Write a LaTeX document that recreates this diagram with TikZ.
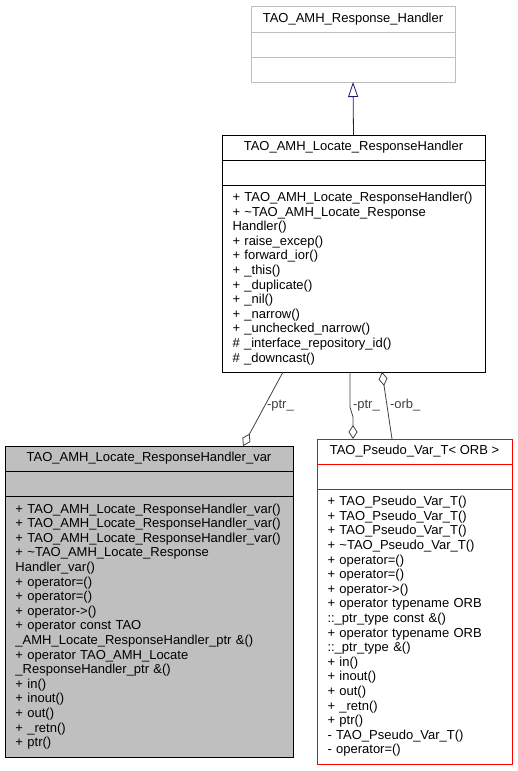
\documentclass[tikz,border=0pt]{standalone}
\usepackage{fontspec}
\setmainfont{Liberation Sans}
\usetikzlibrary{positioning,arrows.meta}
\definecolor{boxgray}{HTML}{BFBFBF}
\definecolor{inherit}{HTML}{191970}
\definecolor{edgegray}{HTML}{404040}
\hyphenpenalty=10000
\exhyphenpenalty=10000
\begin{document}
\begin{tikzpicture}[x=1pt,y=-1pt,
  every node/.style={font=\fontsize{13}{14.6}\selectfont,line width=0.9pt,inner sep=0pt,outer sep=0pt},
  part/.style={draw,minimum height=25pt},
  ops/.style={draw,align=left,inner xsep=10.5pt},
  aggr/.style={{Diamond[open,length=14pt,width=9pt]}-,edgegray,line width=0.8pt}]
\useasboundingbox (0,0) rectangle (517,771);

% base class
\node[part,draw=boxgray,minimum width=204pt,minimum height=26pt] (base) at (353,19) {TAO\_AMH\_Response\_Handler};
\node[part,draw=boxgray,minimum width=204pt,below=0pt of base] (baseattr) {};
\node[part,draw=boxgray,minimum width=204pt,below=0pt of baseattr] (baseops) {};

% handler class
\node[part,minimum width=263pt] (handler) at (353.5,147.5) {TAO\_AMH\_Locate\_ResponseHandler};
\node[part,minimum width=263pt,below=0pt of handler] (handlerattr) {};
\node[ops,minimum height=187pt,text width=242pt,below=0pt of handlerattr] (handlerops) {%
+~TAO\_AMH\_Locate\_ResponseHandler()\\
+ \textasciitilde TAO\_AMH\_Locate\_Response\\
Handler()\\
+ raise\_excep()\\
+ forward\_ior()\\
+ \_this()\\
+ \_duplicate()\\
+ \_nil()\\
+ \_narrow()\\
+ \_unchecked\_narrow()\\
\# \_interface\_repository\_id()\\
\# \_downcast()};

% var class
\node[part,fill=boxgray,minimum width=288pt] (var) at (149,458.5) {TAO\_AMH\_Locate\_ResponseHandler\_var};
\node[part,fill=boxgray,minimum width=288pt,below=0pt of var] (varattr) {};
\node[ops,fill=boxgray,minimum height=261pt,text width=267pt,below=0pt of varattr] (varops) {%
+~TAO\_AMH\_Locate\_ResponseHandler\_var()\\
+~TAO\_AMH\_Locate\_ResponseHandler\_var()\\
+~TAO\_AMH\_Locate\_ResponseHandler\_var()\\
+ \textasciitilde TAO\_AMH\_Locate\_Response\\
Handler\_var()\\
+ operator=()\\
+ operator=()\\
+ operator->()\\
+ operator const TAO\\
\_AMH\_Locate\_ResponseHandler\_ptr \&()\\
+ operator TAO\_AMH\_Locate\\
\_ResponseHandler\_ptr \&()\\
+ in()\\
+ inout()\\
+ out()\\
+ \_retn()\\
+ ptr()};

% pseudo var class
\node[part,draw=red,minimum width=195pt] (pseudo) at (414.5,451.5) {TAO\_Pseudo\_Var\_T< ORB >};
\node[part,draw=red,minimum width=195pt,below=0pt of pseudo] (pseudoattr) {};
\node[ops,draw=red,minimum height=275pt,text width=174pt,below=0pt of pseudoattr] (pseudoops) {%
+ TAO\_Pseudo\_Var\_T()\\
+ TAO\_Pseudo\_Var\_T()\\
+ TAO\_Pseudo\_Var\_T()\\
+ \textasciitilde TAO\_Pseudo\_Var\_T()\\
+ operator=()\\
+ operator=()\\
+ operator->()\\
+ operator typename ORB\\
::\_ptr\_type const \&()\\
+ operator typename ORB\\
::\_ptr\_type \&()\\
+ in()\\
+ inout()\\
+ out()\\
+ \_retn()\\
+ ptr()\\
- TAO\_Pseudo\_Var\_T()\\
- operator=()};

% inheritance
\draw[-{Triangle[open,length=15pt,width=10pt]},inherit,line width=0.8pt] (handler.north) -- (baseops.south);

% aggregation
\draw[aggr] ([xshift=238pt]var.north west) -- node[right=2pt,pos=0.55]{-ptr\_} ([xshift=61pt]handlerops.south west);
\draw[aggr] ([xshift=36pt]pseudo.north west) -- ++(0,-22) -- ++(-3,-10) -- node[right=3pt,pos=0.05]{-ptr\_} ([xshift=128pt]handlerops.south west);
\draw[aggr] ([xshift=160pt]handlerops.south west) -- node[right=3pt,pos=0.5]{-orb\_} ([xshift=75pt]pseudo.north west);
\end{tikzpicture}
\end{document}
